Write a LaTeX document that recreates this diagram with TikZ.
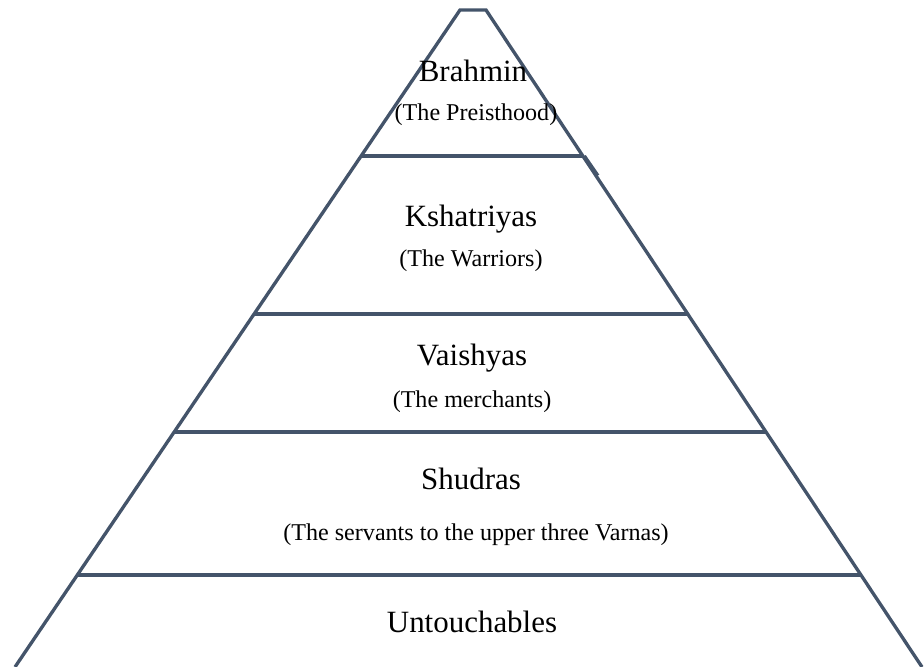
\documentclass[tikz,border=0pt]{standalone}
\usepackage{fontspec}
\setmainfont{Liberation Serif}
\usetikzlibrary{calc}
\definecolor{edge}{HTML}{44546A}
\begin{document}
\begin{tikzpicture}[x=0.01cm,y=-0.01cm,
  outline/.style={draw=edge,line width=0.95pt,line join=miter},
  tier/.style={anchor=base,inner sep=0pt,font=\fontsize{8.8}{10}\selectfont},
  gloss/.style={anchor=base,inner sep=0pt,font=\fontsize{6.85}{8}\selectfont}]
  \useasboundingbox (0,0) rectangle (924,667);
  % apex and base corners of the pyramid
  \coordinate (topL) at (460,10);
  \coordinate (topR) at (486,10);
  \coordinate (botL) at (15,667);
  \coordinate (botR) at (922,667);
  % outline
  \draw[outline] (botL) -- (topL) -- (topR) -- (botR);
  % dividing lines between the tiers
  \foreach \name/\t in {a/0.2222, b/0.4627, c/0.6423, d/0.8600}{
    \coordinate (\name L) at ($(topL)!\t!(botL)$);
    \coordinate (\name R) at ($(topR)!\t!(botR)$);
    \draw[outline] (\name L) -- (\name R);
  }
  % the top tier's right side runs on a little past its base
  \coordinate (spur) at ($(topR)!0.252!(botR)+(2,0)$);
  \draw[outline] ($(aR)+(1.5,0)$) -- (spur);
  % labels
  \node[tier]  (brahmin) at (473,82)  {Brahmin};
  \node[gloss] (brahminG) at (476,121) {(The Preisthood)};
  \node[tier]  (kshat) at (471,227) {Kshatriyas};
  \node[gloss] (kshatG) at (471,267) {(The Warriors)};
  \node[tier]  (vaish) at (472,365) {Vaishyas};
  \node[gloss] (vaishG) at (472,407) {(The merchants)};
  \node[tier]  (shud) at (471,489) {Shudras};
  \node[gloss] (shudG) at (476,540) {(The servants to the upper three Varnas)};
  \node[tier]  (untouch) at (472,632) {Untouchables};
\end{tikzpicture}
\end{document}
